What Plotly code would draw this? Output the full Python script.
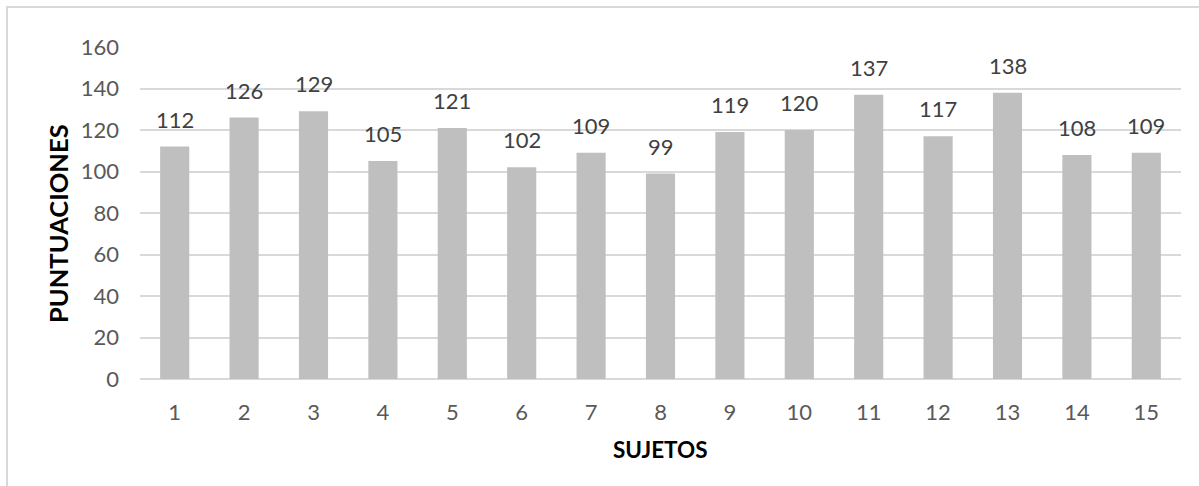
import plotly.graph_objects as go

# Puntuaciones obtenidas por cada sujeto
sujetos = list(range(1, 16))
puntuaciones = [112, 126, 129, 105, 121, 102, 109, 99, 119, 120, 137, 117, 138, 108, 109]
y_ticks = [0, 20, 40, 60, 80, 100, 120, 140, 160]

W, H = 1199, 486
ML, MR, MT, MB = 140, 18, 47, 107
PW, PH = W - ML - MR, H - MT - MB

FONT = "Lato, 'Open Sans', sans-serif"
TICK_COLOR = "#595959"
GRID = "#d9d9d9"
FS = 22


def px_x(p):
    return (p - ML) / PW


def px_y(p):
    return (H - MB - p) / PH


fig = go.Figure(
    go.Bar(
        x=sujetos,
        y=puntuaciones,
        marker=dict(color="#bfbfbf", line=dict(width=0)),
        width=0.42,
        hoverinfo="x+y",
    )
)

# Etiquetas de valor sobre cada barra
for s, v in zip(sujetos, puntuaciones):
    fig.add_annotation(
        x=s, y=v, text=str(v), showarrow=False,
        yanchor="bottom", yshift=12,
        font=dict(family=FONT, size=FS, color="#404040"),
    )

# Títulos de los ejes
fig.add_annotation(
    x=px_x(58), y=px_y(224), xref="paper", yref="paper", text="<b>PUNTUACIONES</b>",
    textangle=-90, showarrow=False, xanchor="center", yanchor="middle",
    font=dict(family=FONT, size=25.5, color="#000000"),
)
fig.add_annotation(
    x=px_x(660), y=px_y(449), xref="paper", yref="paper", text="<b>SUJETOS</b>",
    showarrow=False, xanchor="center", yanchor="middle",
    font=dict(family=FONT, size=22.5, color="#000000"),
)

# Marco del gráfico
fig.add_shape(
    type="rect", xref="paper", yref="paper",
    x0=px_x(7), x1=px_x(W + 10), y0=px_y(H + 10), y1=px_y(7),
    line=dict(color=GRID, width=2), fillcolor="rgba(0,0,0,0)", layer="below",
)

fig.update_layout(
    width=W, height=H,
    margin=dict(l=ML, r=MR, t=MT, b=MB),
    paper_bgcolor="white", plot_bgcolor="white",
    showlegend=False,
    font=dict(family=FONT, size=FS, color=TICK_COLOR),
)
fig.update_xaxes(
    range=[0.5, 15.5], tickvals=sujetos, ticktext=[str(s) for s in sujetos],
    showgrid=False, showline=False, zeroline=False,
    ticks="outside", ticklen=0, ticklabelstandoff=14,
    tickfont=dict(family=FONT, size=FS, color=TICK_COLOR),
)
fig.update_yaxes(
    range=[0, 160], tickvals=y_ticks, showgrid=True, gridcolor=GRID, gridwidth=2,
    zeroline=True, zerolinecolor=GRID, zerolinewidth=2, showline=False,
    ticklabelstandoff=20,
    tickfont=dict(family=FONT, size=FS, color=TICK_COLOR),
)

fig.write_html("out.html")
